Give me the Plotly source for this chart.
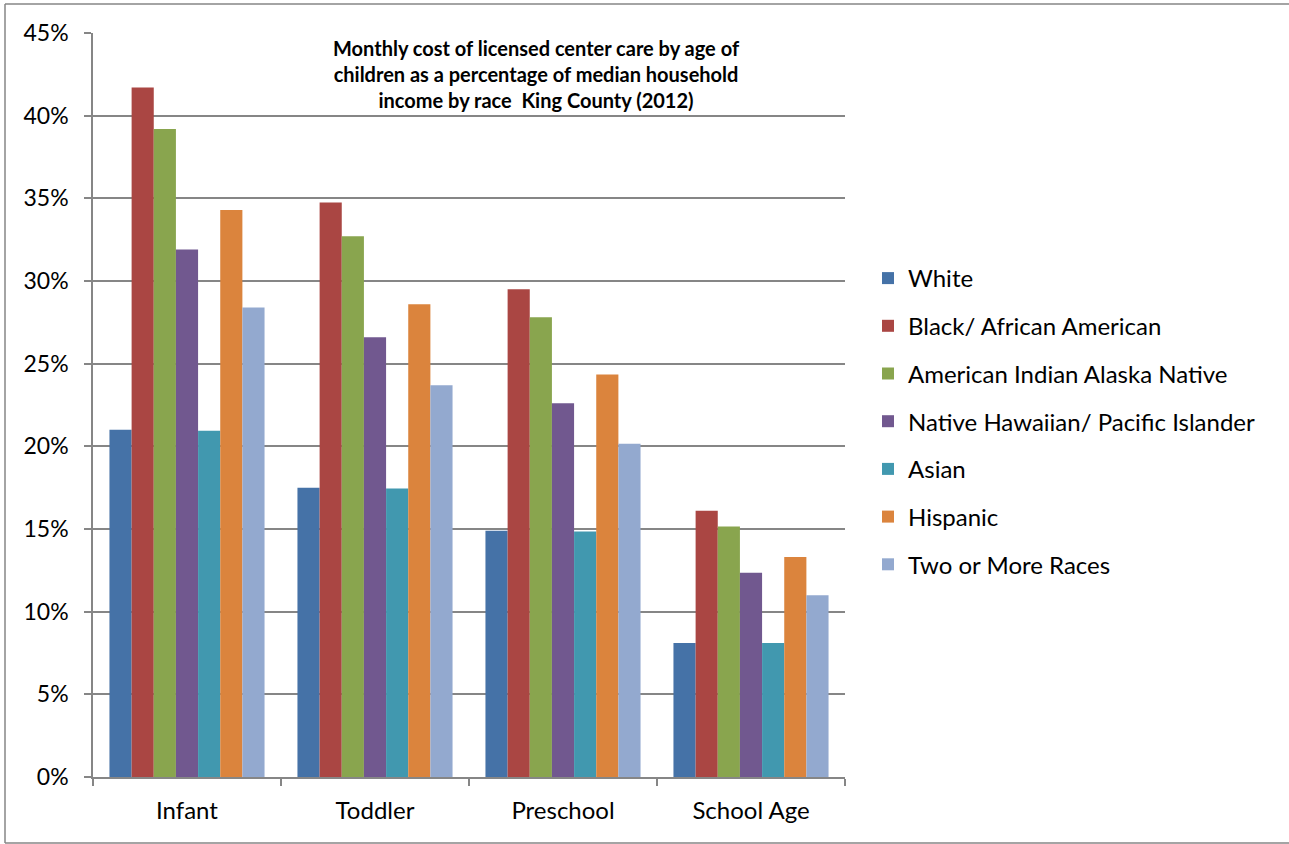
import plotly.graph_objects as go

categories = ["Infant", "Toddler", "Preschool", "School Age"]
series_names = [
    "White",
    "Black/ African American",
    "American Indian Alaska Native",
    "Native Hawaiian/ Pacific Islander",
    "Asian",
    "Hispanic",
    "Two or More Races",
]
white = [21.0, 17.5, 14.9, 8.1]
black = [41.7, 34.75, 29.5, 16.1]
aian = [39.2, 32.7, 27.8, 15.15]
nhpi = [31.9, 26.6, 22.6, 12.35]
asian = [20.95, 17.45, 14.85, 8.1]
hispanic = [34.3, 28.6, 24.35, 13.3]
two_more = [28.4, 23.7, 20.15, 11.0]
values = [white, black, aian, nhpi, asian, hispanic, two_more]
colors = ["#4572A7", "#AA4643", "#89A54E", "#71588F", "#4198AF", "#DB843D", "#93A9CF"]

tick_vals = [0, 5, 10, 15, 20, 25, 30, 35, 40, 45]
tick_text = [f"{v}%" for v in tick_vals]

title_text = ("Monthly cost of licensed center care by age of<br>"
              "children as a percentage of median household<br>"
              "income by race  King County (2012)")

FONT = "Lato, 'Open Sans', sans-serif"

fig = go.Figure()
for name, vals, col in zip(series_names, values, colors):
    fig.add_trace(go.Bar(
        x=categories, y=vals, name=name, legendgroup=name,
        marker=dict(color=col, line=dict(width=0)),
    ))

W, H = 1289, 844
L, R, T, B = 93, 845, 33, 777
pw, ph = R - L, B - T

bx0, bx1 = (5 - L) / pw, (W - L) / pw
by0, by1 = (B - 843) / ph, (B - 4) / ph
border = dict(color="#868686", width=1.5)

fig.update_layout(
    width=W, height=H,
    margin=dict(l=L, r=W - R, t=T, b=H - B, pad=0),
    paper_bgcolor="white", plot_bgcolor="white",
    barmode="group", bargap=0.175, bargroupgap=0,
    font=dict(family=FONT, size=22, color="#000000"),
    showlegend=True,
    legend=dict(
        x=(868 - L) / pw, xanchor="left",
        y=(B - 256) / ph, yanchor="top",
        font=dict(family=FONT, size=24, color="#000000"),
        tracegroupgap=13.5, itemwidth=30,
        bgcolor="rgba(0,0,0,0)",
    ),
    xaxis=dict(
        showgrid=False, showline=True, linecolor="#868686", linewidth=1.5,
        ticks="outside", tickson="boundaries", ticklen=7, tickcolor="#868686",
        tickwidth=1.5, ticklabelstandoff=11,
        tickfont=dict(family=FONT, size=24, color="#000000"),
        range=[-0.5, 3.5],
    ),
    yaxis=dict(
        range=[0, 45], tickvals=tick_vals, ticktext=tick_text,
        showgrid=True, gridcolor="#868686", gridwidth=1.5,
        showline=True, linecolor="#868686", linewidth=1.5,
        ticks="outside", ticklen=7, tickcolor="#868686", tickwidth=1.5,
        ticklabelstandoff=11,
        tickfont=dict(family=FONT, size=23, color="#000000"),
        zeroline=False,
    ),
    annotations=[dict(
        text="<b>" + title_text + "</b>",
        xref="paper", yref="paper",
        x=(536 - L) / pw, y=(B - 34) / ph,
        xanchor="center", yanchor="top",
        showarrow=False, align="center",
        font=dict(family=FONT, size=20, color="#000000"),
    )],
    shapes=[
        dict(type="line", xref="paper", yref="paper", x0=bx0, x1=bx0, y0=by0, y1=by1, line=border),
        dict(type="line", xref="paper", yref="paper", x0=bx0, x1=bx1, y0=by1, y1=by1, line=border),
        dict(type="line", xref="paper", yref="paper", x0=bx0, x1=bx1, y0=by0, y1=by0, line=border),
    ],
)

fig.write_html(
    "out.html",
    config={"displayModeBar": False},
    post_script="document.body.style.margin='0';document.body.style.overflow='hidden';",
)
